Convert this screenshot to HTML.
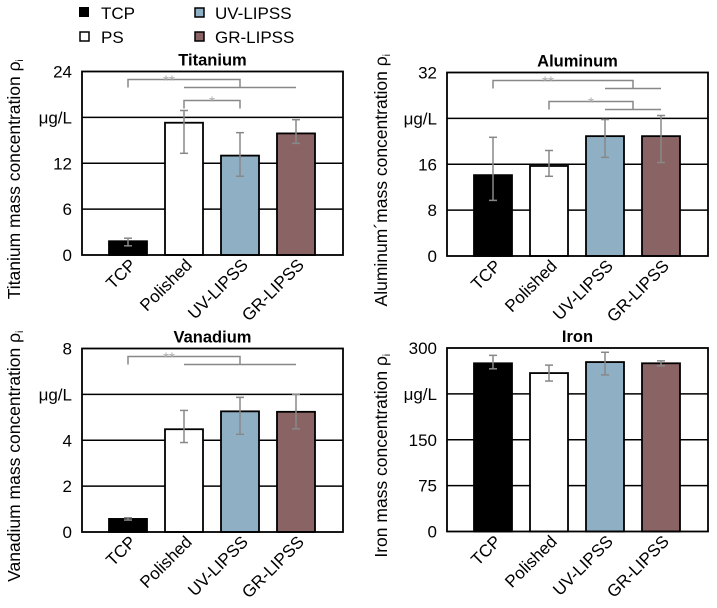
<!DOCTYPE html>
<html><head><meta charset="utf-8"><style>
body{margin:0;background:#fff}
svg{display:block;font-family:"Liberation Sans",Arial,sans-serif}
</style></head><body>
<svg id="chart" width="717" height="608" viewBox="0 0 717 608">
<g>
 <g><rect x="79" y="7" width="10" height="10" fill="#000"/><text x="101" y="19" font-size="17">TCP</text></g>
 <g><rect x="80" y="32" width="9" height="9" fill="#fff" stroke="#000" stroke-width="1.5"/><text x="101" y="43" font-size="17">PS</text></g>
 <g><rect x="195" y="8" width="9" height="9" fill="#8fb0c4" stroke="#000" stroke-width="1.5"/><text x="215" y="19" font-size="17">UV-LIPSS</text></g>
 <g><rect x="195" y="32" width="9" height="9" fill="#8a6464" stroke="#000" stroke-width="1.5"/><text x="215" y="43" font-size="17">GR-LIPSS</text></g>
</g>
</svg>
<script>
const categories = ["TCP","Polished","UV-LIPSS","GR-LIPSS"];
const colors = ["#000000","#ffffff","#8fb0c4","#8a6464"];
const tiValues = [1.8, 17.3, 13.0, 15.9];
const tiErrHi = [2.2, 18.9, 16.0, 17.7];
const tiErrLo = [1.2, 13.3, 10.3, 14.6];
const tiTicks = ["0","6","12","μg/L","24"];
const alValues = [14.1, 15.7, 20.9, 20.9];
const alErrHi = [20.7, 18.4, 23.8, 24.5];
const alErrLo = [9.7, 13.9, 17.2, 16.3];
const alTicks = ["0","8","16","μg/L","32"];
const vValues = [0.57, 4.48, 5.26, 5.24];
const vErrHi = [0.62, 5.3, 5.87, 6.0];
const vErrLo = [0.52, 3.9, 4.26, 4.5];
const vTicks = ["0","2","4","μg/L","8"];
const feValues = [275, 259, 277, 275];
const feErrHi = [288, 272, 293, 279];
const feErrLo = [266, 246, 256, 271];
const feTicks = ["0","75","150","μg/L","300"];
// significance brackets: [fromCat, toCat, level, label, groupLineFrom, groupLineTo]
const tiSig = [[0,2,0,"**",1,3],[1,2,1,"*",null,null]];
const alSig = [[0,2.5,0,"**",2,3],[1,2.5,1,"*",2,3]];
const vSig = [[0,2,0,"**",1,3]];

const NS="http://www.w3.org/2000/svg";
const svg=document.getElementById('chart');
function mk(tag,attrs,parent){const e=document.createElementNS(NS,tag);for(const k in attrs)e.setAttribute(k,attrs[k]);(parent||svg).appendChild(e);return e;}

function panel(o){
 const g=mk('g',{});
 
 
 const L=o.x0,R=o.x0+261,T=o.top,B=o.top+183.5;
 const yMax=o.max;
 const y=v=>B-(v/yMax)*(B-T);
 const band=56;
 const x=i=>L+18+band*(i+0.5);
 for(let k=1;k<4;k++){
  const gl=mk('line',{x1:L,x2:R,y1:y(yMax*k/4),y2:y(yMax*k/4),stroke:'#000','stroke-width':1.6},g);
  
  
 }
 o.ticks.forEach((t,k)=>{
  const tl=mk('text',{x:L-10,y:y(yMax*k/4)+6,'text-anchor':'end','font-size':17},g);
  tl.textContent=t;
  
  
 });
 o.values.forEach((v,i)=>{
  const b=mk('rect',{x:x(i)-19,y:y(v),width:38,height:B-y(v),fill:colors[i],stroke:'#000','stroke-width':1.8},g);
  
  
 });
 o.values.forEach((v,i)=>{
  const eg=mk('g',{stroke:'#888','stroke-width':1.5},g);
  
  
  mk('line',{x1:x(i),x2:x(i),y1:y(o.hi[i]),y2:y(o.lo[i])},eg);
  mk('line',{x1:x(i)-4,x2:x(i)+4,y1:y(o.hi[i]),y2:y(o.hi[i])},eg);
  mk('line',{x1:x(i)-4,x2:x(i)+4,y1:y(o.lo[i]),y2:y(o.lo[i])},eg);
 });
 const bx=mk('rect',{x:L,y:T,width:R-L,height:B-T,fill:'none',stroke:'#000','stroke-width':1.8},g);
 
 
 (o.sig||[]).forEach(s=>{
  const sg=mk('g',{stroke:'#888','stroke-width':1.5,fill:'none'},g);
  
  
  const yl=T+8+s[2]*21, xa=x(s[0]), xb=x(s[1]);
  mk('polyline',{points:`${xa},${yl+8} ${xa},${yl} ${xb},${yl} ${xb},${yl+8}`},sg);
  if(s[4]!==null) mk('line',{x1:x(s[4]),x2:x(s[5]),y1:yl+8,y2:yl+8},sg);
  const st=mk('text',{x:(xa+xb)/2-(s[3]=="**"?15:0),y:yl+6,'text-anchor':'middle','font-size':15,fill:'#aaa',stroke:'none'},g);
  st.textContent=s[3];
  
  
 });
 categories.forEach((c,i)=>{
  const tx=x(i)+9, ty=B+11;
  const t=mk('text',{x:tx,y:ty,'text-anchor':'end','font-size':17,transform:`rotate(-45 ${tx} ${ty})`},g);
  t.textContent=c;
  
  
 });
 const ti=mk('text',{x:(L+R)/2,y:T-6,'text-anchor':'middle','font-size':16.5,'font-weight':'bold'},g);
 ti.textContent=o.title;
 
 
 const cx=o.yTitleX, cy=(T+B)/2+16;
 const yt=mk('text',{x:cx,y:cy,'text-anchor':'middle','font-size':17.5,transform:`rotate(-90 ${cx} ${cy})`},g);
 yt.textContent=o.ytitle+' ρ';
 const sub=mk('tspan',{'font-size':10,dy:3},yt); sub.textContent='i';
 
 
}
panel({name:'titanium',title:'Titanium',x0:82,top:71.5,max:24,values:tiValues,hi:tiErrHi,lo:tiErrLo,ticks:tiTicks,sig:tiSig,yTitleX:20,ytitle:'Titanium mass concentration'});
panel({name:'aluminum',title:'Aluminum',x0:447,top:72.5,max:32,values:alValues,hi:alErrHi,lo:alErrLo,ticks:alTicks,sig:alSig,yTitleX:387,ytitle:'Aluminum´mass concentration'});
panel({name:'vanadium',title:'Vanadium',x0:82,top:348.5,max:8,values:vValues,hi:vErrHi,lo:vErrLo,ticks:vTicks,sig:vSig,yTitleX:20,ytitle:'Vanadium mass concentration'});
panel({name:'iron',title:'Iron',x0:447,top:348,max:300,values:feValues,hi:feErrHi,lo:feErrLo,ticks:feTicks,sig:[],yTitleX:387,ytitle:'Iron  mass concentration'});
</script>
</body></html>
